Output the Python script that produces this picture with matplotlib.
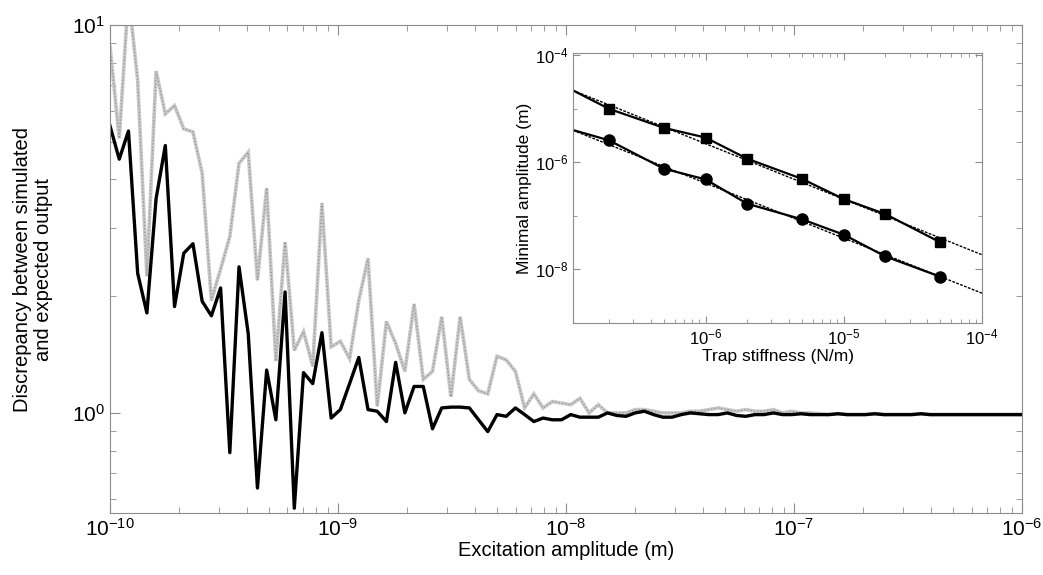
import numpy as np
import matplotlib
matplotlib.use('Agg')
import matplotlib.pyplot as plt
from matplotlib.ticker import LogLocator, LogFormatterMathtext, NullFormatter

plt.rcParams['font.family'] = ['Liberation Sans', 'DejaVu Sans']
plt.rcParams['mathtext.default'] = 'regular'

# ---- main chart: discrepancy vs excitation amplitude (100 samples, log grid 1e-10..1e-6)
black_vals = [
    5.49, 4.51, 5.33, 2.29, 1.81, 3.57, 4.89, 1.88, 2.58, 2.73,
    1.94, 1.78, 2.10, 0.79, 2.38, 1.60, 0.64, 1.29, 0.96, 2.05,
    0.568, 1.27, 1.19, 1.61, 0.97, 1.02, 1.19, 1.39, 1.02, 1.01,
    0.95, 1.35, 1.00, 1.17, 1.17, 0.91, 1.03, 1.035, 1.035, 1.03,
    0.96, 0.895, 0.99, 0.98, 1.03, 0.99, 0.95, 0.97, 0.96, 0.96,
    0.99, 0.975, 0.975, 0.975, 1.00, 0.985, 0.98, 1.00, 1.01, 0.99,
    0.975, 0.975, 0.99, 1.00, 0.995, 0.99, 0.99, 1.00, 0.985, 0.98,
    0.99, 0.99, 1.00, 0.99, 0.99, 0.995, 0.99, 0.99, 0.99, 0.995,
    0.99, 0.99, 0.99, 0.995, 0.99, 0.99, 0.99, 0.99, 0.995, 0.99,
    0.99, 0.99, 0.99, 0.99, 0.99, 0.99, 0.99, 0.99, 0.99, 0.99,
]
gray_vals = [
    8.8, 5.1, 12.0, 7.2, 2.25, 7.6, 5.9, 6.2, 5.4, 5.3,
    4.15, 1.95, 2.35, 2.85, 4.4, 4.7, 2.2, 3.8, 1.36, 2.76,
    1.45, 1.62, 1.32, 3.47, 1.48, 1.53, 1.38, 1.95, 2.50, 1.04,
    1.72, 1.51, 1.28, 1.91, 1.22, 1.28, 1.77, 1.10, 1.77, 1.22,
    1.14, 1.12, 1.40, 1.37, 1.28, 1.03, 1.12, 1.03, 1.07, 1.06,
    1.05, 1.09, 1.00, 1.05, 1.00, 1.00, 1.00, 1.02, 1.02, 1.01,
    1.00, 1.00, 1.00, 1.01, 1.01, 1.02, 1.03, 1.02, 1.01, 1.02,
    1.01, 1.01, 1.02, 1.00, 1.01, 1.00, 1.00, 0.995, 0.99, 0.995,
    0.99, 0.99, 0.99, 0.995, 0.99, 0.99, 0.99, 0.99, 0.995, 0.99,
    0.99, 0.99, 0.99, 0.99, 0.99, 0.99, 0.99, 0.99, 0.99, 0.99,
]
excitation = np.logspace(-10, -6, len(black_vals))

# ---- inset: minimal amplitude vs trap stiffness
stiffness = [1e-7, 2e-7, 5e-7, 1e-6, 2e-6, 5e-6, 1e-5, 2e-5, 5e-5]
amp_square = [2.5e-5, 1.0e-5, 4.4e-6, 2.9e-6, 1.17e-6, 4.9e-7, 2.06e-7, 1.08e-7, 3.2e-8]
amp_circle = [4.3e-6, 2.58e-6, 7.6e-7, 4.8e-7, 1.69e-7, 8.6e-8, 4.46e-8, 1.75e-8, 7.3e-9]
fit_k = [1.1e-7, 1e-4]
fit_square = [2.2e-5, 1.88e-8]
fit_circle = [3.96e-6, 3.6e-9]

spine_col = '#8c8c8c'

fig = plt.figure(figsize=(10.43, 5.75), dpi=100)
ax = fig.add_axes([0.1055, 0.1078, 0.8745, 0.8487])

ax.plot(excitation, gray_vals, color='#c8c8c8', lw=2.6, solid_joinstyle='miter')
ax.plot(excitation, gray_vals, color='#8a8a8a', lw=0.8, ls=(0, (1, 2)))
ax.plot(excitation, black_vals, color='black', lw=2.4)

ax.set_xscale('log')
ax.set_yscale('log')
ax.set_xlim(1e-10, 1e-6)
ax.set_ylim(0.552, 10)
ax.xaxis.set_major_locator(LogLocator(base=10, numticks=10))
ax.xaxis.set_minor_locator(LogLocator(base=10, subs=np.arange(2, 10), numticks=10))
ax.xaxis.set_minor_formatter(NullFormatter())
ax.set_yticks([1, 10])
ax.yaxis.set_major_formatter(LogFormatterMathtext())
ax.yaxis.set_minor_locator(LogLocator(base=10, subs=np.arange(2, 10), numticks=10))
ax.yaxis.set_minor_formatter(NullFormatter())

for sp in ax.spines.values():
    sp.set_color(spine_col)
ax.tick_params(which='both', direction='in', top=True, right=True, colors=spine_col,
               labelcolor='black', labelsize=15)
ax.tick_params(which='major', length=7)
ax.tick_params(which='minor', length=4)
ax.set_xlabel('Excitation amplitude (m)', fontsize=14.5, labelpad=1)
ax.set_ylabel('Discrepancy between simulated\nand expected output', fontsize=14.5,
              labelpad=14, linespacing=1.1)

# inset
ins = fig.add_axes([0.5494, 0.4383, 0.3921, 0.4695])
ins.plot(fit_k, fit_square, color='black', lw=1.0, ls=(0, (2, 1)))
ins.plot(fit_k, fit_circle, color='black', lw=1.0, ls=(0, (2, 1)))
ins.plot(stiffness, amp_square, color='black', lw=1.6, marker='s', ms=7,
         markevery=list(range(1, len(stiffness))))
ins.plot(stiffness, amp_circle, color='black', lw=1.6, marker='o', ms=8,
         markevery=list(range(1, len(stiffness))))
ins.set_xscale('log')
ins.set_yscale('log')
ins.set_xlim(1.1e-7, 1e-4)
ins.set_ylim(1e-9, 1.1e-4)
ins.set_xticks([1e-6, 1e-5, 1e-4])
ins.xaxis.set_major_formatter(LogFormatterMathtext())
ins.xaxis.set_minor_locator(LogLocator(base=10, subs=np.arange(2, 10), numticks=10))
ins.xaxis.set_minor_formatter(NullFormatter())
ins.set_yticks([1e-8, 1e-6, 1e-4])
ins.yaxis.set_major_formatter(LogFormatterMathtext())
ins.set_yticks([1e-9, 1e-7, 1e-5], minor=True)
ins.yaxis.set_minor_formatter(NullFormatter())
for sp in ins.spines.values():
    sp.set_color(spine_col)
ins.tick_params(which='both', direction='in', top=True, right=True, colors=spine_col,
                labelcolor='black', labelsize=12)
ins.tick_params(which='major', length=5)
ins.tick_params(which='minor', length=3)
ins.set_xlabel('Trap stiffness (N/m)', fontsize=12.5, labelpad=1)
ins.set_ylabel('Minimal amplitude (m)', fontsize=12.5, labelpad=2)

fig.savefig('out.png', dpi=100)
